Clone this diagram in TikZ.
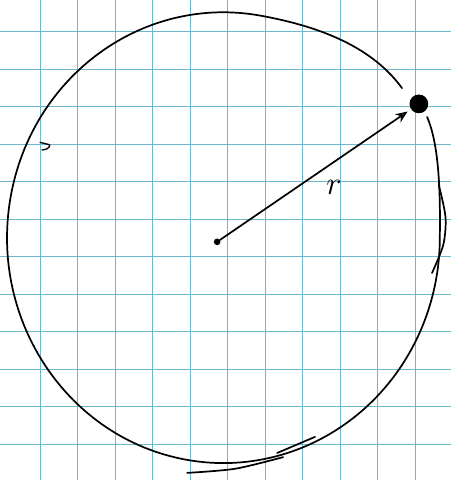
\documentclass[tikz,border=0pt]{standalone}
\usepackage{amsmath}
\usepackage{tikz}
\usepackage{xcolor}
\usetikzlibrary{arrows.meta}
\definecolor{gridblue}{RGB}{110,184,206}
\tikzset{
  gridline/.style={gridblue,line width=0.9pt},
  pen/.style={black,line width=1.3pt,line cap=round,line join=round},
  dotnode/.style={circle,fill=black,inner sep=0pt}
}
\begin{document}
\begin{tikzpicture}
\useasboundingbox (0,0) rectangle (12.027,12.8);
\fill [white](0,0) rectangle (12.027,12.8);
\foreach \x in {1.07,2.07,...,11.07} \draw [gridline](\x,0)--(\x,12.8);
\foreach \y in {0.95,1.95,...,11.95} \draw [gridline](0,\y)--(12.027,\y);
\draw [pen] (10.72,10.45) .. controls (9.85,11.65) and (8.30,12.135) .. (6.96,12.38)
  arc[start angle=80,end angle=360,x radius=5.77,y radius=6.01]
  .. controls (11.75,7.9) and (11.68,9.0) .. (11.39,9.68);
\draw [pen] plot[smooth] coordinates {(4.99,0.19) (6.27,0.30) (7.55,0.61)};
\draw [pen] plot[smooth] coordinates {(7.39,0.72) (8.40,1.15)};
\draw [pen] plot[smooth] coordinates {(11.70,7.87) (11.88,7.01) (11.82,6.27) (11.52,5.52)};
\draw [pen,line width=1pt] plot[smooth] coordinates {(1.07,9.0) (1.33,8.93) (1.25,8.83) (1.12,8.8)};
\node [dotnode,minimum size=5pt] (O) at (5.79,6.35) {};
\node [dotnode,minimum size=0.5cm] (P) at (11.17,10.03) {};
\draw [pen,-{Stealth[open,length=3.2mm,width=2.6mm]},shorten >=3pt] (O)--(P);
\node (r) at (8.91,7.79) {\fontsize{28}{30}\selectfont $r$};
\end{tikzpicture}
\end{document}
